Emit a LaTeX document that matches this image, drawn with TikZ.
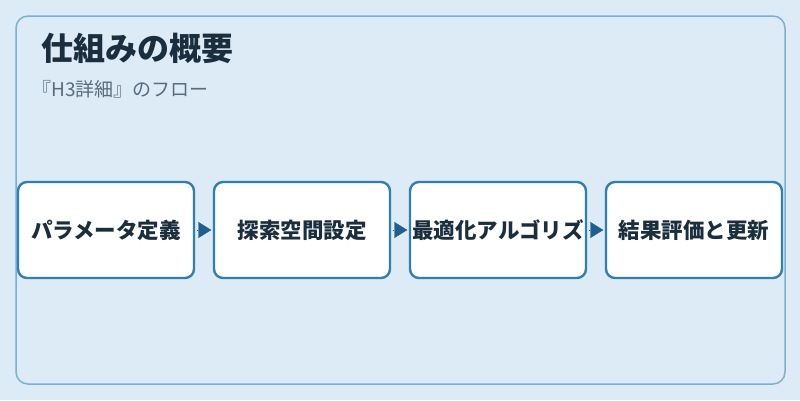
\documentclass[tikz,border=0pt]{standalone}
\usepackage{fontspec}
\setmainfont{Noto Sans CJK JP}
\usetikzlibrary{arrows.meta}
\definecolor{bgc}{HTML}{DCEBF6}
\definecolor{framec}{HTML}{7AB0D6}
\definecolor{boxc}{HTML}{2E7FB8}
\definecolor{arrc}{HTML}{1F5F8F}
\definecolor{titlec}{HTML}{1A2E3E}
\definecolor{subc}{HTML}{5A6B7A}
\tikzset{
  stepbox/.style={draw=boxc, line width=2.4pt, fill=white, rounded corners=9pt,
    minimum width=176pt, minimum height=96pt, inner sep=0pt,
    font=\fontsize{21.5}{24}\selectfont\bfseries, text=titlec},
  flow/.style={draw=arrc, fill=arrc, line width=0.4pt,
    -{Triangle[length=13pt,width=16pt]}, shorten <=1.5pt, shorten >=1.5pt}
}
\begin{document}
\begin{tikzpicture}[x=1pt,y=-1pt]
\useasboundingbox (0,0) rectangle (800,400);
\fill[bgc] (0,0) rectangle (800,400);
\draw[framec, line width=1.5pt, rounded corners=12pt] (16,16) rectangle (785,384);
\node[anchor=base west, inner sep=0pt, text=titlec, font=\fontsize{32}{35}\selectfont\bfseries] (title) at (41,60) {仕組みの概要};
\node[anchor=base west, inner sep=0pt, text=subc, font=\fontsize{19}{22}\selectfont] (sub) at (32,96) {『H3詳細』のフロー};
\node[stepbox] (b1) at (106,230) {パラメータ定義};
\node[stepbox] (b2) at (302,230) {探索空間設定};
\node[stepbox] (b3) at (498,230) {最適化アルゴリズ};
\node[stepbox] (b4) at (694,230) {結果評価と更新};
\draw[flow] (b1) -- (b2);
\draw[flow] (b2) -- (b3);
\draw[flow] (b3) -- (b4);
\end{tikzpicture}
\end{document}
